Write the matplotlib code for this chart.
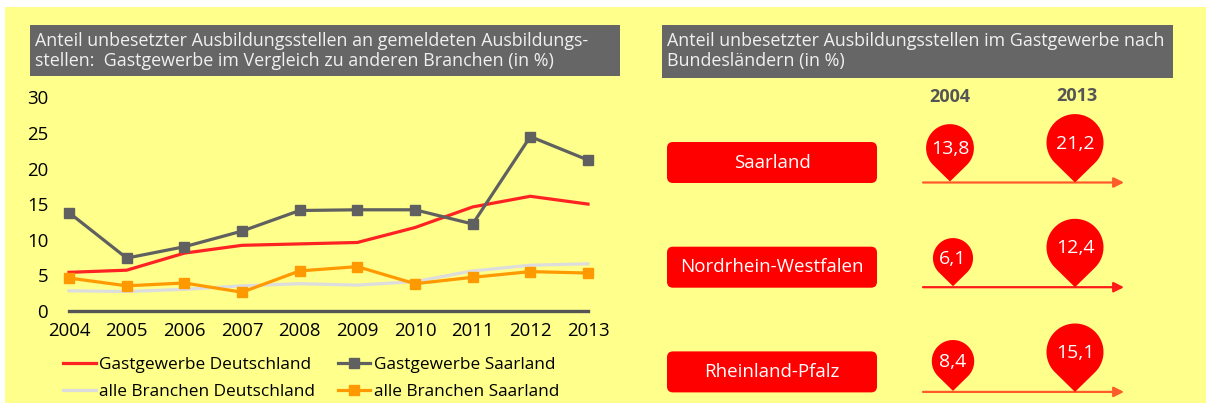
import matplotlib.pyplot as plt
from matplotlib.patches import Rectangle, FancyBboxPatch, Polygon
import numpy as np

plt.rcParams['font.family'] = ['Open Sans', 'DejaVu Sans']

# data, left chart
jahre = [2004, 2005, 2006, 2007, 2008, 2009, 2010, 2011, 2012, 2013]
gast_de = [5.4, 5.7, 8.1, 9.2, 9.4, 9.6, 11.7, 14.6, 16.1, 15.0]
gast_sl = [13.8, 7.4, 9.0, 11.2, 14.1, 14.2, 14.2, 12.2, 24.5, 21.2]
alle_de = [2.8, 2.7, 3.0, 3.5, 3.8, 3.6, 4.1, 5.6, 6.4, 6.6]
alle_sl = [4.6, 3.5, 3.9, 2.6, 5.6, 6.2, 3.8, 4.7, 5.5, 5.3]

# data, right panel
laender = ["Saarland", "Nordrhein-Westfalen", "Rheinland-Pfalz"]
wert_2004 = [13.8, 6.1, 8.4]
wert_2013 = [21.2, 12.4, 15.1]

W, H = 1206, 407
fig = plt.figure(figsize=(W / 100, H / 100), dpi=100)
fig.patch.set_facecolor("white")

# background axes in pixel coordinates
bg = fig.add_axes([0, 0, 1, 1], zorder=0)
bg.set_xlim(0, W)
bg.set_ylim(H, 0)
bg.axis("off")

gelb = "#FFFF8C"
grau = "#666666"
rot = "#FF0000"

bg.add_patch(Rectangle((5, 7), W - 5, 396, color=gelb, lw=0))

# title boxes
bg.add_patch(Rectangle((30, 25), 590, 51, color=grau, lw=0))
bg.text(35, 51, "Anteil unbesetzter Ausbildungsstellen an gemeldeten Ausbildungs-\n"
        "stellen:  Gastgewerbe im Vergleich zu anderen Branchen (in %)",
        color="#F0F0F0", fontsize=12.9, va="center", ha="left", linespacing=1.12)
bg.add_patch(Rectangle((662, 25), 511, 53, color=grau, lw=0))
bg.text(667, 51, "Anteil unbesetzter Ausbildungsstellen im Gastgewerbe nach\n"
        "Bundesländern (in %)",
        color="#F0F0F0", fontsize=12.9, va="center", ha="left", linespacing=1.12)

# right panel
x04, x13 = 950, 1075
bg.text(x04, 97, "2004", fontsize=13, fontweight="bold", color="#555555", ha="center", va="center")
bg.text(x13 + 2, 96, "2013", fontsize=13, fontweight="bold", color="#555555", ha="center", va="center")


def pin(ax, cx, tip_y, r, label):
    d = 1.4 * r
    cy = tip_y - d
    th = np.arccos(r / d)
    # arc over the top from one tangent point to the other
    angs = np.linspace(np.pi / 2 + th, np.pi / 2 - th + 2 * np.pi, 80)
    xs = cx + r * np.cos(angs)
    ys = cy + r * np.sin(angs)
    pts = np.column_stack([xs, ys])
    pts = np.vstack([pts, [cx, tip_y]])
    ax.add_patch(Polygon(pts, closed=True, color=rot, lw=0, zorder=3))
    ax.text(cx, cy + 1, label, color="white", fontsize=14, ha="center", va="center", zorder=4)


pfeil_farben = ["#FF5A2A", "#FF1A1A", "#FF5A2A"]
for i, land in enumerate(laender):
    yc = 162.5 + 104.7 * i
    bg.add_patch(FancyBboxPatch((667, yc - 20.5), 210, 41,
                                boxstyle="round,pad=0,rounding_size=6",
                                color=rot, lw=0))
    bg.text(772, yc, land, color="white", fontsize=13.5, ha="center", va="center")
    ya = yc + 20
    bg.annotate("", xy=(1124, ya), xytext=(923, ya),
                arrowprops=dict(arrowstyle="-|>", color=pfeil_farben[i], lw=1.6,
                                mutation_scale=15, shrinkA=0, shrinkB=0))
    pin(bg, x04 + (0 if i == 0 else 3), ya - 1, 17 + 0.5 * wert_2004[i],
        f"{wert_2004[i]:.1f}".replace(".", ","))
    pin(bg, x13, ya, 28.5, f"{wert_2013[i]:.1f}".replace(".", ","))

# line chart
ax = fig.add_axes([69 / W, (H - 310.7) / H, 519 / W, 213.2 / H], zorder=1)
ax.patch.set_alpha(0)
ax.set_xlim(2004, 2013)
ax.set_ylim(0, 30)
for s in ["top", "right", "left"]:
    ax.spines[s].set_visible(False)
ax.spines["bottom"].set_color("#555555")
ax.spines["bottom"].set_linewidth(2.4)
ax.spines["bottom"].set_zorder(1)
ax.set_yticks([0, 5, 10, 15, 20, 25, 30])
ax.set_xticks(jahre)
ax.tick_params(axis="both", length=0, labelsize=13.4)
ax.tick_params(axis="y", pad=15)
ax.tick_params(axis="x", pad=8)

l1, = ax.plot(jahre, gast_de, color="#FF2222", lw=2.3, clip_on=False, zorder=3)
l3, = ax.plot(jahre, alle_de, color="#DDDDDD", lw=2.3, clip_on=False, zorder=2)
l2, = ax.plot(jahre, gast_sl, color="#606060", lw=2.3, marker="s", ms=6.5, clip_on=False, zorder=4)
l4, = ax.plot(jahre, alle_sl, color="#FF9900", lw=2.3, marker="s", ms=6.5, clip_on=False, zorder=5)

fig.legend([l1, l3, l2, l4],
           ["Gastgewerbe Deutschland", "alle Branchen Deutschland",
            "Gastgewerbe Saarland", "alle Branchen Saarland"],
           loc="upper left", bbox_to_anchor=(63 / W, 1 - 357 / H), ncol=2,
           frameon=False, fontsize=12.4, handlelength=1.9, handletextpad=0.2,
           columnspacing=1.3, labelspacing=0.62, borderpad=0, borderaxespad=0,
           numpoints=1)

fig.savefig("out.png", dpi=100)
